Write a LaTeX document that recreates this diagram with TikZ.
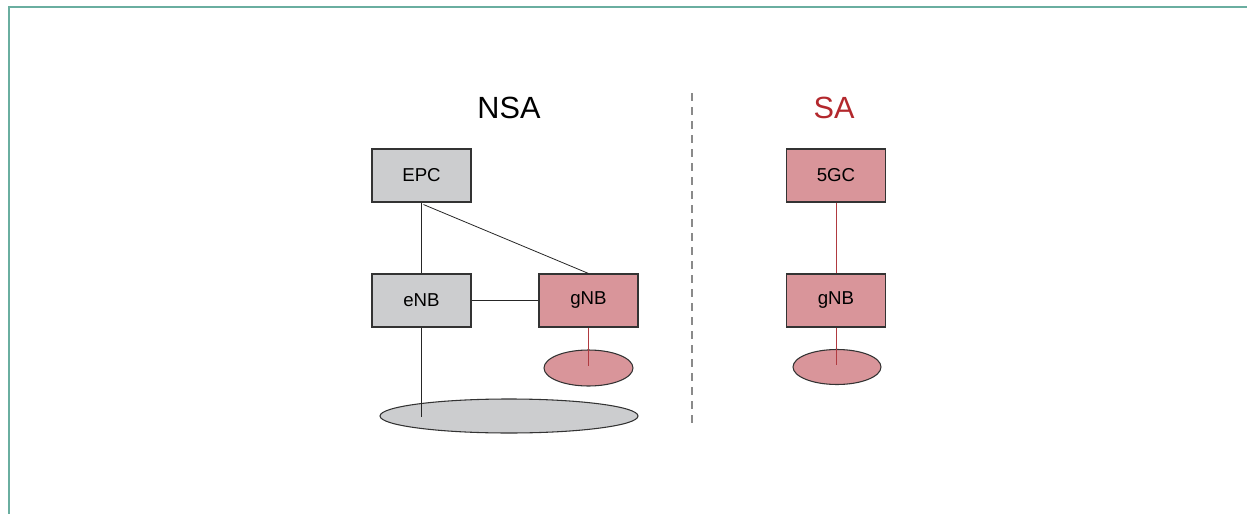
\documentclass[tikz,border=0pt]{standalone}
\usepackage{fontspec}
\setmainfont{Liberation Sans}
\usetikzlibrary{shapes.geometric}
\definecolor{grayfill}{HTML}{CCCDCF}
\definecolor{redfill}{HTML}{D9959A}
\definecolor{redtext}{HTML}{B3282D}
\definecolor{redline}{HTML}{B03A40}
\definecolor{frame}{HTML}{6AAEA0}
\definecolor{dashgray}{HTML}{8A8A8A}
\begin{document}
\begin{tikzpicture}[x=0.75pt,y=-0.75pt,
  box/.style={draw=black!80,line width=0.8pt,minimum width=74.25pt,minimum height=39.75pt,inner sep=0pt,font=\fontsize{14}{16}\selectfont},
  graybox/.style={box,fill=grayfill},
  redbox/.style={box,fill=redfill},
  cell/.style={ellipse,draw=black!80,line width=0.8pt,inner sep=0pt},
  link/.style={draw=black!85,line width=0.6pt},
  redlink/.style={draw=redline,line width=0.6pt},
  title/.style={font=\fontsize{23}{27}\selectfont}]
\useasboundingbox (0,0) rectangle (1247,514);
\draw[frame,line width=1.5pt] (9,514) -- (9,7) -- (1247,7);
% NSA
\node[title] (nsa) at (509,108) {NSA};
\node[graybox] (epc) at (421.5,175.5) {EPC};
\node[graybox] (enb) at (421.5,300.5) {eNB};
\node[redbox] (gnb1) at (588.5,300.5) {gNB};
\node[cell,fill=redfill,minimum width=66.75pt,minimum height=27pt] (c1) at (588.5,368) {};
\node[cell,fill=grayfill,minimum width=193.5pt,minimum height=25.5pt] (c0) at (509,416) {};
\coordinate (e0) at (421.5,417);
\coordinate (e1) at (588.5,366);
\draw[link] (epc) -- (enb);
\draw[link] (epc.south) ++(2,2) coordinate (es) -- (gnb1.north);
\draw[link] (enb) -- (gnb1);
\draw[link] (enb.south) -- (e0);
\draw[redlink] (gnb1.south) -- (e1);
% divider
\coordinate (dtop) at (692,93);
\coordinate (dbot) at (692,425);
\draw[dashgray,line width=1pt,dash pattern=on 6pt off 4.5pt] (dtop) -- (dbot);
% SA
\node[title,text=redtext] (sa) at (834,108) {SA};
\node[redbox] (fgc) at (836,175.5) {5GC};
\node[redbox] (gnb2) at (836,300.5) {gNB};
\node[cell,fill=redfill,minimum width=66pt,minimum height=26.25pt] (c2) at (837,367) {};
\coordinate (e2) at (836,365);
\draw[redlink] (fgc) -- (gnb2);
\draw[redlink] (gnb2.south) -- (e2);
\end{tikzpicture}
\end{document}
